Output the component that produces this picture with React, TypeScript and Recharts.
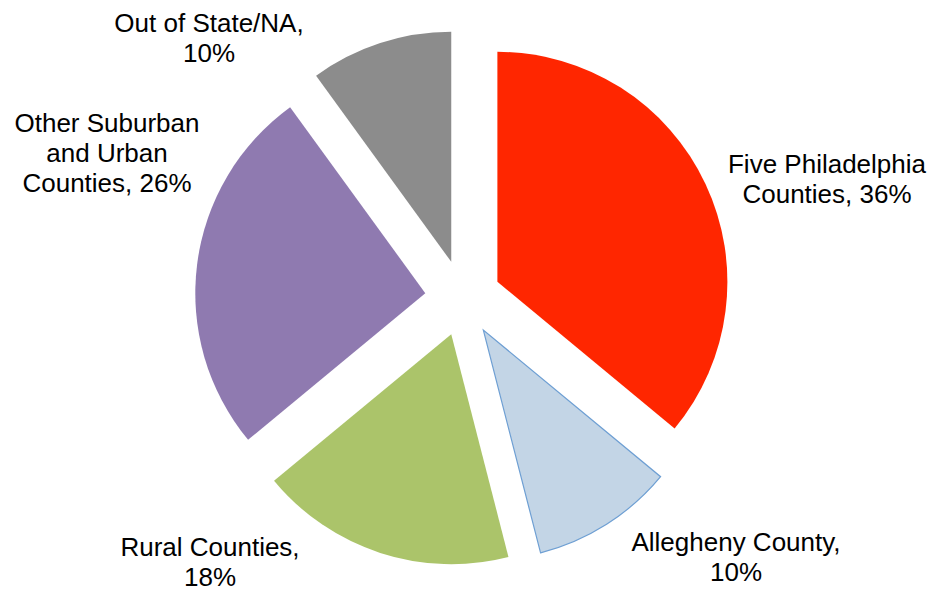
import React from 'react';
import { PieChart, Pie, Cell, Sector } from 'recharts';

const categories = [
  'Five Philadelphia Counties',
  'Allegheny County',
  'Rural Counties',
  'Other Suburban and Urban Counties',
  'Out of State/NA',
];
const shares = [36, 10, 18, 26, 10];
const labelLines = [
  ['Five Philadelphia', 'Counties, 36%'],
  ['Allegheny County,', '10%'],
  ['Rural Counties,', '18%'],
  ['Other Suburban', 'and Urban', 'Counties, 26%'],
  ['Out of State/NA,', '10%'],
];
const fills = ['#FF2600', '#C3D5E6', '#ABC46A', '#8F7AB0', '#8C8C8C'];
const strokes = ['none', '#6E9FD3', 'none', 'none', 'none'];
// label anchor offsets relative to pie centre (layout only)
const labelOffsets = [
  [364, -125],
  [273, 253],
  [-253, 258],
  [-356, -166],
  [-254, -266],
];
const EXPLODE = 38;
const RAD = Math.PI / 180;

const data = categories.map((name, i) => ({ name, value: shares[i] }));

const renderSliceAndLabel = (props: any) => {
  const { cx, cy, startAngle, endAngle, outerRadius, index } = props;
  const mid = (startAngle + endAngle) / 2;
  const ox = cx + EXPLODE * Math.cos(-mid * RAD);
  const oy = cy + EXPLODE * Math.sin(-mid * RAD);
  const [dx, dy] = labelOffsets[index];
  const lines = labelLines[index];
  return (
    <g key={`s-${index}`}>
      <Sector
        cx={ox}
        cy={oy}
        innerRadius={0}
        outerRadius={outerRadius}
        startAngle={startAngle}
        endAngle={endAngle}
        fill={fills[index]}
        stroke={strokes[index]}
        strokeWidth={1.2}
      />
      <text
        x={cx + dx}
        y={cy + dy}
        textAnchor="middle"
        fontFamily="'Liberation Sans', Arial, sans-serif"
        fontSize={26}
        fill="#000"
      >
        {lines.map((l, j) => (
          <tspan key={j} x={cx + dx} dy={j === 0 ? 0 : 30}>
            {l}
          </tspan>
        ))}
      </text>
    </g>
  );
};

export default function App() {
  return (
    <div style={{ position: 'absolute', left: 0, top: 0, width: 932, height: 592, background: '#fff' }}>
      <PieChart width={932} height={592} margin={{ top: 0, right: 0, bottom: 0, left: 0 }}>
        <Pie
          data={data}
          dataKey="value"
          nameKey="name"
          cx={463}
          cy={298}
          innerRadius={0}
          outerRadius={230}
          startAngle={90}
          endAngle={-270}
          isAnimationActive={false}
          stroke="none"
          label={renderSliceAndLabel}
          labelLine={false}
        >
          {data.map((d, i) => (
            <Cell key={d.name} fill="transparent" stroke="none" />
          ))}
        </Pie>
      </PieChart>
    </div>
  );
}
